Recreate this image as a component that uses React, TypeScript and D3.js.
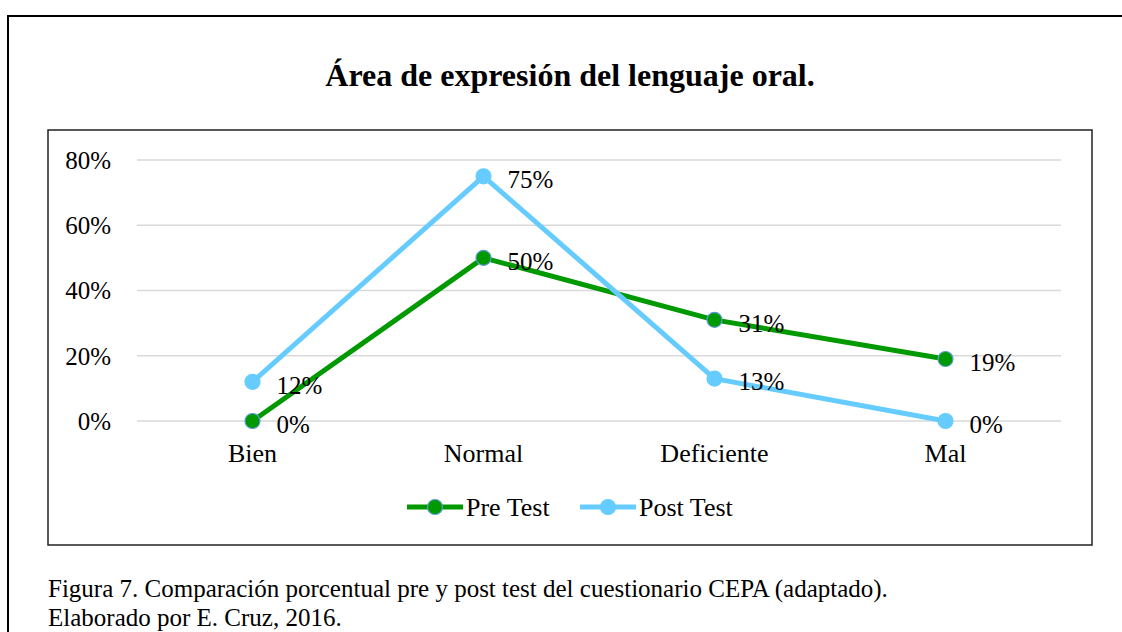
import React, { useEffect, useRef } from 'react';
import * as d3 from 'd3';

const categories = ['Bien', 'Normal', 'Deficiente', 'Mal'];
const preTest = [0, 50, 31, 19];
const postTest = [12, 75, 13, 0];
const yTicks = [0, 20, 40, 60, 80];
const seriesNames = ['Pre Test', 'Post Test'];

const App = () => {
  const ref = useRef<SVGSVGElement>(null);

  useEffect(() => {
    const svg = d3.select(ref.current);
    svg.selectAll('*').remove();

    const font = '"Liberation Serif", "Times New Roman", serif';

    // outer frame and inner chart box
    svg.append('rect')
      .attr('x', 8).attr('y', 16)
      .attr('width', 1130).attr('height', 640)
      .attr('fill', 'none').attr('stroke', '#000').attr('stroke-width', 2);

    svg.append('rect')
      .attr('x', 48).attr('y', 130)
      .attr('width', 1044).attr('height', 415)
      .attr('fill', '#fff').attr('stroke', '#222').attr('stroke-width', 1.5);

    svg.append('text')
      .attr('x', 570).attr('y', 86)
      .attr('text-anchor', 'middle')
      .attr('font-family', font).attr('font-weight', 'bold').attr('font-size', 32)
      .text('Área de expresión del lenguaje oral.');

    const x = d3.scaleBand().domain(categories).range([137, 1061]);
    const y = d3.scaleLinear().domain([0, 80]).range([421, 160]);
    const cx = (c: string) => (x(c) as number) + x.bandwidth() / 2;

    // gridlines
    svg.append('g').selectAll('line')
      .data(yTicks)
      .join('line')
        .attr('x1', 137).attr('x2', 1061)
        .attr('y1', d => y(d)).attr('y2', d => y(d))
        .attr('stroke', '#d9d9d9').attr('stroke-width', 1.5);

    svg.append('g').selectAll('text')
      .data(yTicks)
      .join('text')
        .attr('x', 111).attr('y', d => y(d))
        .attr('dy', '0.35em')
        .attr('text-anchor', 'end')
        .attr('font-family', font).attr('font-size', 25)
        .text(d => d + '%');

    svg.append('g').selectAll('text')
      .data(categories)
      .join('text')
        .attr('x', d => cx(d)).attr('y', 453)
        .attr('dy', '0.35em')
        .attr('text-anchor', 'middle')
        .attr('font-family', font).attr('font-size', 26)
        .text(d => d);

    const series = [
      { name: seriesNames[0], values: preTest, color: '#009900', stroke: '#5b9bd5' },
      { name: seriesNames[1], values: postTest, color: '#66ccff', stroke: '#66ccff' },
    ];

    const line = d3.line<number>()
      .x((d, i) => cx(categories[i]))
      .y(d => y(d));

    series.forEach(s => {
      const g = svg.append('g');
      g.append('path')
        .attr('d', line(s.values))
        .attr('fill', 'none')
        .attr('stroke', s.color).attr('stroke-width', 5)
        .attr('stroke-linejoin', 'round');
      g.selectAll('circle')
        .data(s.values)
        .join('circle')
          .attr('cx', (d, i) => cx(categories[i]))
          .attr('cy', d => y(d))
          .attr('r', 7.5)
          .attr('fill', s.color)
          .attr('stroke', s.stroke).attr('stroke-width', 1.2);
      g.selectAll('text')
        .data(s.values)
        .join('text')
          .attr('x', (d, i) => cx(categories[i]) + 24)
          .attr('y', d => y(d) + 3)
          .attr('dy', '0.35em')
          .attr('font-family', font).attr('font-size', 25)
          .text(d => d + '%');
    });

    // legend
    const legendX = [407, 580];
    series.forEach((s, i) => {
      const lg = svg.append('g').attr('transform', `translate(${legendX[i]},507)`);
      lg.append('line')
        .attr('x1', 0).attr('x2', 56)
        .attr('stroke', s.color).attr('stroke-width', 5);
      lg.append('circle')
        .attr('cx', 28).attr('r', 7.5)
        .attr('fill', s.color)
        .attr('stroke', s.stroke).attr('stroke-width', 1.2);
      lg.append('text')
        .attr('x', 59).attr('dy', '0.35em')
        .attr('font-family', font).attr('font-size', 26)
        .text(s.name);
    });

    // caption
    svg.append('text')
      .attr('x', 48).attr('y', 597)
      .attr('font-family', font).attr('font-size', 25)
      .text('Figura 7. Comparación porcentual pre y post test del cuestionario CEPA (adaptado).');
    svg.append('text')
      .attr('x', 48).attr('y', 626)
      .attr('font-family', font).attr('font-size', 25)
      .text('Elaborado por E. Cruz, 2016.');
  }, []);

  return (
    <svg ref={ref} width={1122} height={632}
      style={{ position: 'absolute', left: 0, top: 0, background: '#fff' }} />
  );
};

export default App;
